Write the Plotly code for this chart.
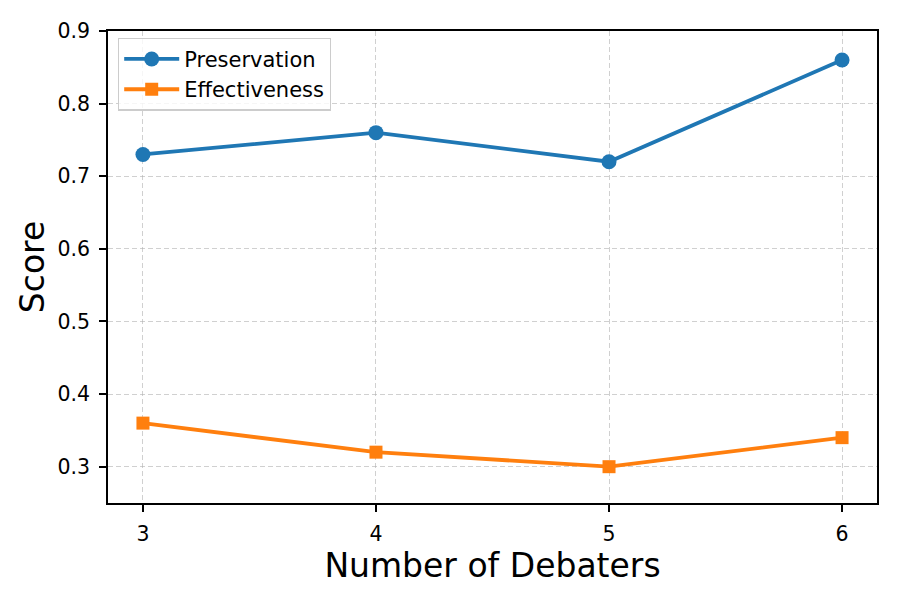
import plotly.graph_objects as go

debaters = [3, 4, 5, 6]
preservation = [0.73, 0.76, 0.72, 0.86]
effectiveness = [0.36, 0.32, 0.30, 0.34]
y_ticks = [0.3, 0.4, 0.5, 0.6, 0.7, 0.8, 0.9]

fig = go.Figure()
fig.add_trace(go.Scatter(x=debaters, y=preservation, mode="lines+markers", name="Preservation",
                         legendgroup="a",
                         line=dict(color="#1f77b4", width=3.8),
                         marker=dict(symbol="circle", size=15, color="#1f77b4")))
fig.add_trace(go.Scatter(x=debaters, y=effectiveness, mode="lines+markers", name="Effectiveness",
                         legendgroup="b",
                         line=dict(color="#ff7f0e", width=3.8),
                         marker=dict(symbol="square", size=13, color="#ff7f0e")))

axis_common = dict(showline=True, linecolor="black", linewidth=1.6, mirror=True,
                   ticks="outside", ticklen=7, tickwidth=1.6, tickcolor="black",
                   ticklabelstandoff=5,
                   showgrid=True, gridcolor="rgba(176,176,176,0.6)", griddash="5px,3px", gridwidth=1.4,
                   zeroline=False, tickfont=dict(size=20.5, color="black"))

fig.update_xaxes(range=[2.85, 6.15], tickvals=debaters, ticktext=[str(d) for d in debaters],
                 title=dict(text="Number of Debaters", font=dict(size=33, color="black"), standoff=2),
                 **axis_common)
fig.update_yaxes(range=[0.25, 0.9], tickvals=y_ticks, ticktext=[f"{v:.1f}" for v in y_ticks],
                 title=dict(text="Score", font=dict(size=33, color="black"), standoff=3),
                 **axis_common)

fig.update_layout(width=900, height=600, plot_bgcolor="white", paper_bgcolor="white",
                  font=dict(family="DejaVu Sans", color="black"),
                  margin=dict(l=100, r=31, t=23, b=105),
                  legend=dict(x=0.013, y=0.986, xanchor="left", yanchor="top",
                              bgcolor="rgba(255,255,255,0.8)", bordercolor="#cccccc", borderwidth=1.2,
                              font=dict(size=21, color="black"), itemwidth=55,
                              tracegroupgap=0))

fig.write_html("out.html")
